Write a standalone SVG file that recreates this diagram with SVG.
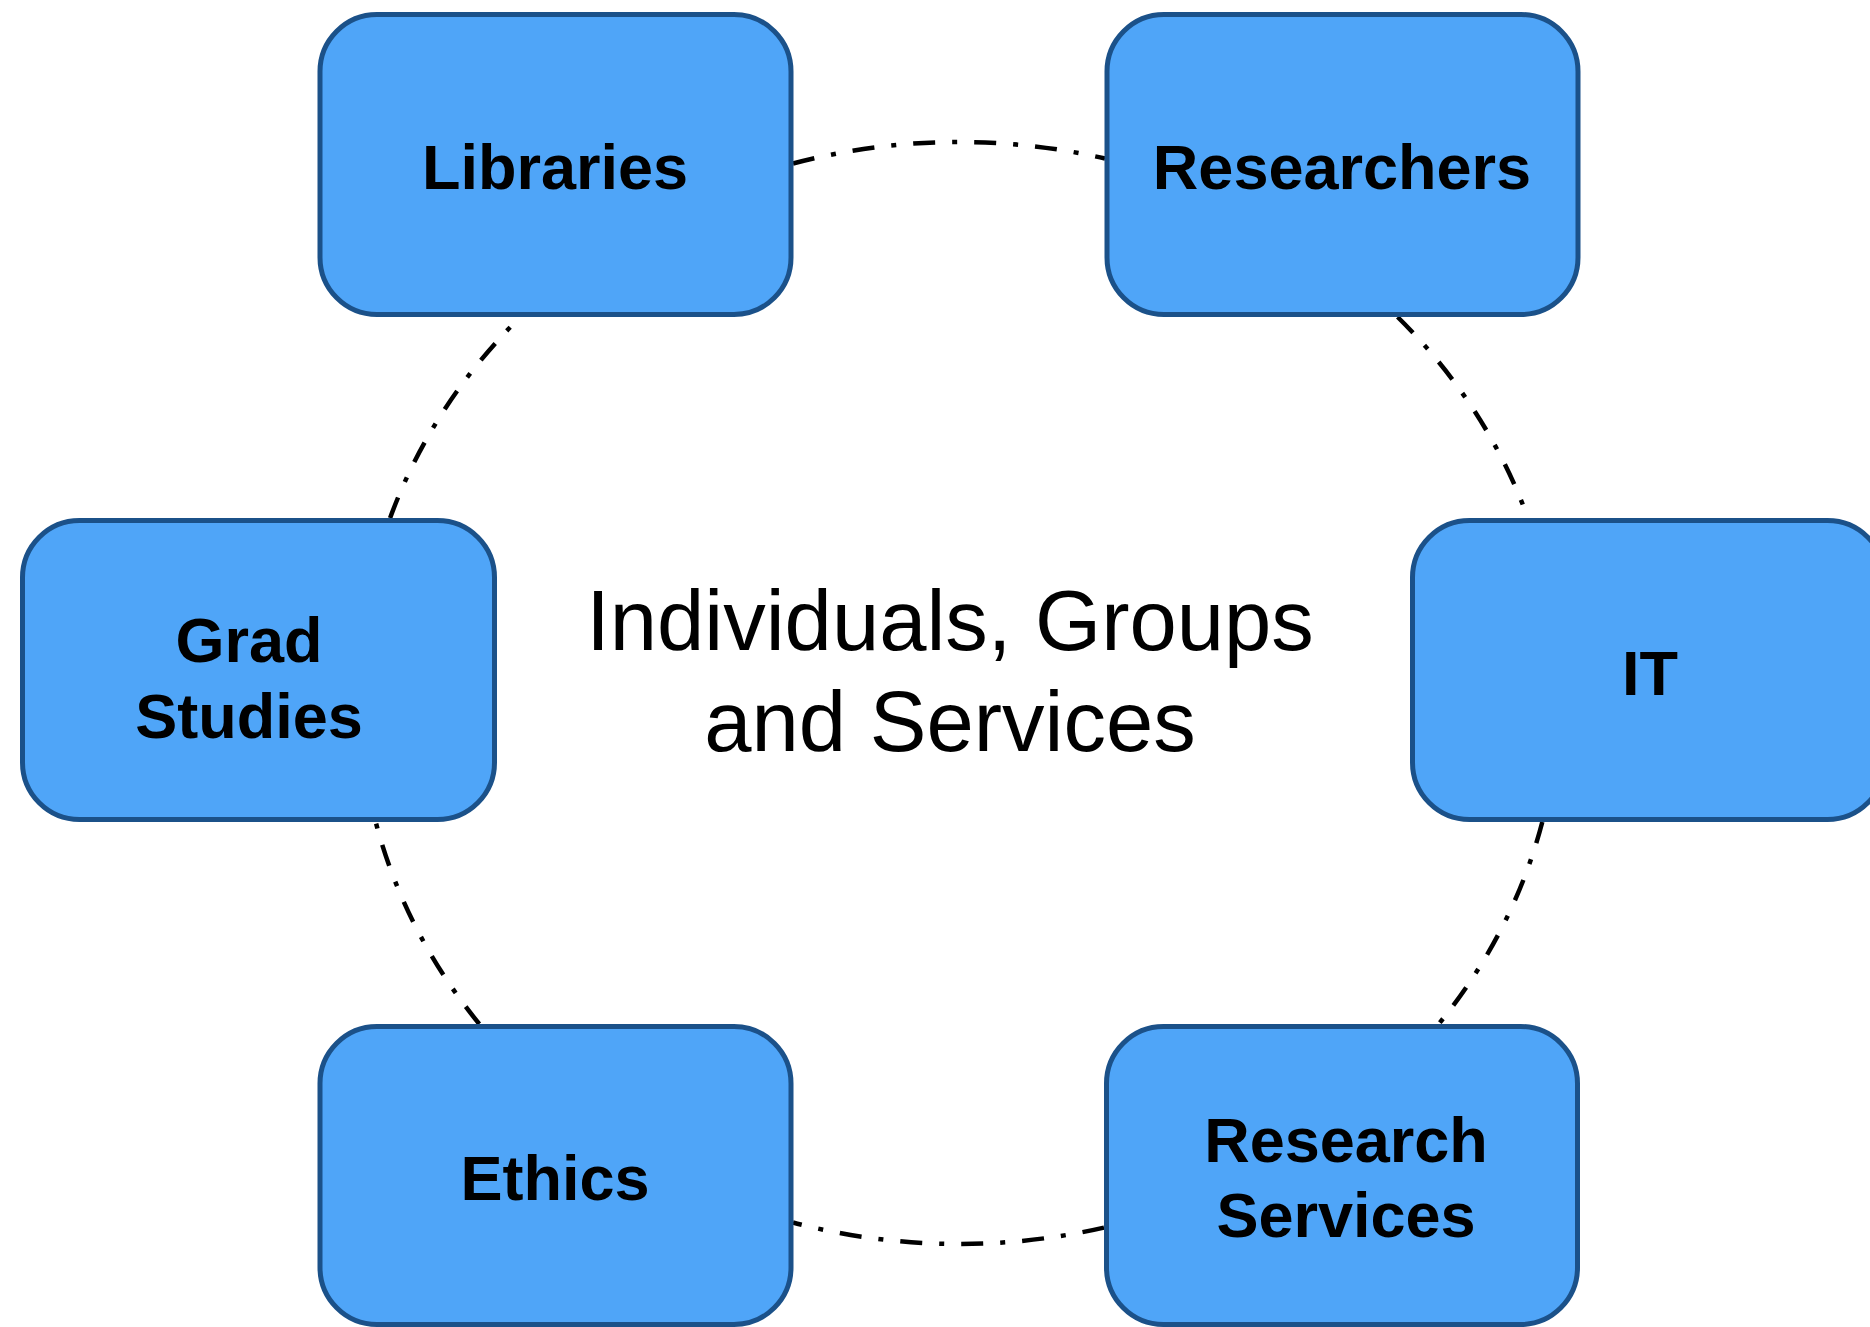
<svg xmlns="http://www.w3.org/2000/svg" width="1870" height="1327" viewBox="0 0 1870 1327">
<style>
.box{fill:#4FA5F8;stroke:#1B5189;stroke-width:5}
.lbl{font-family:"Liberation Sans",Arial,sans-serif;font-weight:bold;font-size:63px;fill:#000;text-anchor:middle}
.ctr{font-family:"Liberation Sans",Arial,sans-serif;font-size:85px;fill:#000;text-anchor:middle}
.arc{fill:none;stroke:#000;stroke-width:4.5;stroke-dasharray:22 17 5 17}
</style>
<rect width="1870" height="1327" fill="#fff"/>
<g id="connectors">
<path class="arc" d="M 793 163.5 A 600 551 0 0 1 1105 158.5"/>
<path class="arc" d="M 1397.6 317 A 600 551 0 0 1 1527.9 518"/>
<path class="arc" d="M 1542.3 822 A 600 551 0 0 1 1438.7 1024"/>
<path class="arc" d="M 1104 1227.6 A 600 551 0 0 1 793 1222.5"/>
<path class="arc" d="M 479.3 1024 A 600 551 0 0 1 375.7 822"/>
<path class="arc" d="M 390.1 518 A 600 551 0 0 1 520.4 317"/>
</g>
<g id="center-label">
<text class="ctr" x="950" y="650">Individuals, Groups</text>
<text class="ctr" x="950" y="751">and Services</text>
</g>
<g id="libraries">
<rect class="box" x="320" y="14.5" width="471" height="300" rx="57"/>
<text class="lbl" x="555" y="189">Libraries</text>
</g>
<g id="researchers">
<rect class="box" x="1107" y="14.5" width="471" height="300" rx="57"/>
<text class="lbl" x="1342" y="189">Researchers</text>
</g>
<g id="grad-studies">
<rect class="box" x="22.5" y="520.5" width="472" height="299" rx="57"/>
<text class="lbl" x="249" y="662">Grad</text>
<text class="lbl" x="249" y="738">Studies</text>
</g>
<g id="it">
<rect class="box" x="1412.5" y="520.5" width="472" height="299" rx="57"/>
<text class="lbl" x="1650" y="695">IT</text>
</g>
<g id="ethics">
<rect class="box" x="320" y="1026.5" width="471" height="298" rx="57"/>
<text class="lbl" x="555" y="1200">Ethics</text>
</g>
<g id="research-services">
<rect class="box" x="1106.5" y="1026.5" width="471" height="298" rx="57"/>
<text class="lbl" x="1346" y="1162">Research</text>
<text class="lbl" x="1346" y="1237">Services</text>
</g>
</svg>
